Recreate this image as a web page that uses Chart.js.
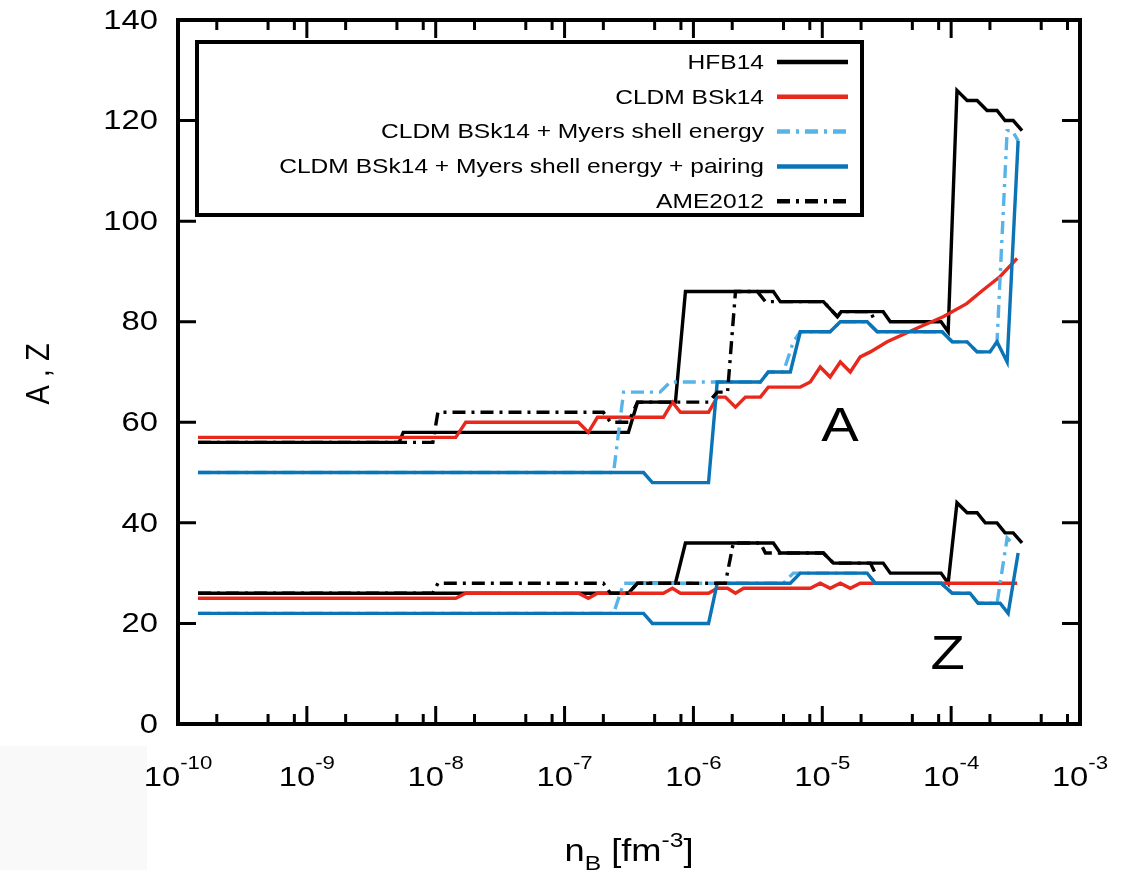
<!DOCTYPE html>
<html>
<head>
<meta charset="utf-8">
<title>A, Z vs nB</title>
<script src="https://cdn.jsdelivr.net/npm/chart.js@4.4.1/dist/chart.umd.min.js"></script>
<style>
  html, body { margin: 0; padding: 0; background: #fff; }
  canvas { display: block; }
</style>
</head>
<body>
<canvas id="myChart" width="1129" height="870"></canvas>
<script>
// values, nB in fm^-3

// HFB14
const hfbA_n = [1.43e-10, 5.2e-9, 5.6e-9, 3.13e-7, 3.68e-7, 7.25e-7, 8.67e-7, 4.17e-6, 4.72e-6, 1.02e-5, 1.31e-5, 1.40e-5, 2.97e-5, 3.37e-5, 8.35e-5, 9.48e-5, 1.11e-4, 1.33e-4, 1.59e-4, 1.90e-4, 2.27e-4, 2.62e-4, 3.03e-4, 3.55e-4];
const hfbA   = [56, 56, 58, 58, 64, 64, 86, 86, 84, 84, 81, 82, 82, 80, 80, 78, 126, 124, 124, 122, 122, 120, 120, 118];
const hfbZ_n = [1.43e-10, 3.13e-7, 3.68e-7, 7.25e-7, 8.67e-7, 4.17e-6, 4.72e-6, 1.02e-5, 1.22e-5, 2.97e-5, 3.37e-5, 8.35e-5, 9.48e-5, 1.11e-4, 1.33e-4, 1.59e-4, 1.84e-4, 2.27e-4, 2.62e-4, 3.03e-4, 3.55e-4];
const hfbZ   = [26, 26, 28, 28, 36, 36, 34, 34, 32, 32, 30, 30, 28, 44, 42, 42, 40, 40, 38, 38, 36];

// CLDM BSk14
const cldmA_n = [1.43e-10, 1.43e-8, 1.71e-8, 1.28e-7, 1.53e-7, 1.8e-7, 5.85e-7, 6.87e-7, 7.93e-7, 1.31e-6, 1.53e-6, 1.77e-6, 2.12e-6, 2.53e-6, 3.31e-6, 3.81e-6, 6.75e-6, 8.07e-6, 9.64e-6, 1.15e-5, 1.38e-5, 1.65e-5, 1.97e-5, 2.36e-5, 3.19e-5, 4.2e-5, 5.75e-5, 8.67e-5, 1.32e-4, 1.77e-4, 2.4e-4, 3.25e-4];
const cldmA   = [57, 57, 60, 60, 58, 61, 61, 64, 62, 62, 65, 65, 63, 65, 65, 67, 67, 68, 71, 69, 72, 70, 73, 74, 76, 77.4, 79, 81, 83.6, 86.3, 89, 92.6];
const cldmZ_n = [1.43e-10, 1.43e-8, 1.71e-8, 1.28e-7, 1.53e-7, 1.8e-7, 5.85e-7, 6.87e-7, 7.93e-7, 1.31e-6, 1.53e-6, 1.84e-6, 2.12e-6, 2.45e-6, 8.07e-6, 9.64e-6, 1.15e-5, 1.38e-5, 1.65e-5, 1.97e-5, 3.25e-4];
const cldmZ   = [25, 25, 26, 26, 25, 26, 26, 27, 26, 26, 27, 27, 26, 27, 27, 28, 27, 28, 27, 28, 28];

// CLDM BSk14 + Myers shell energy
const myA_n = [1.43e-10, 2.4e-7, 2.87e-7, 5.5e-7, 6.6e-7, 3.31e-6, 3.81e-6, 4.99e-6, 5.96e-6, 6.75e-6, 1.15e-5, 1.38e-5, 2.23e-5, 2.67e-5, 8.51e-5, 1.02e-4, 1.33e-4, 1.59e-4, 2.0e-4, 2.27e-4, 2.72e-4, 2.97e-4, 3.31e-4];
const myA   = [50, 50, 66, 66, 68, 68, 70, 70, 76, 78, 78, 80, 80, 78, 78, 76, 76, 74, 74, 76, 118, 118, 116];
const myZ_n = [1.43e-10, 2.4e-7, 2.87e-7, 4.99e-6, 5.96e-6, 2.23e-5, 2.58e-5, 8.35e-5, 1.02e-4, 1.40e-4, 1.62e-4, 2.27e-4, 2.72e-4, 2.97e-4];
const myZ   = [22, 22, 28, 28, 30, 30, 28, 28, 26, 26, 24, 24, 37, 36];

// CLDM BSk14 + Myers shell energy + pairing
const pairA_n = [1.43e-10, 4.1e-7, 4.8e-7, 1.31e-6, 1.53e-6, 3.31e-6, 3.81e-6, 5.65e-6, 6.75e-6, 1.15e-5, 1.38e-5, 2.23e-5, 2.67e-5, 8.51e-5, 1.02e-4, 1.33e-4, 1.59e-4, 2.0e-4, 2.27e-4, 2.72e-4, 3.31e-4];
const pairA   = [50, 50, 48, 48, 68, 68, 70, 70, 78, 78, 80, 80, 78, 78, 76, 76, 74, 74, 76, 72, 116];
const pairZ_n = [1.43e-10, 4.1e-7, 4.8e-7, 1.31e-6, 1.53e-6, 5.65e-6, 6.75e-6, 2.23e-5, 2.58e-5, 8.35e-5, 1.02e-4, 1.40e-4, 1.62e-4, 2.40e-4, 2.77e-4, 3.31e-4];
const pairZ   = [22, 22, 20, 20, 28, 28, 30, 30, 28, 28, 26, 26, 24, 24, 22, 34];

// AME2012
const ameA_n = [1.43e-10, 9.5e-9, 1.04e-8, 2.0e-7, 2.27e-7, 3.13e-7, 3.68e-7, 1.31e-6, 1.53e-6, 1.84e-6, 2.12e-6, 3.13e-6, 3.62e-6, 1.02e-5, 1.31e-5, 1.40e-5, 2.36e-5, 2.58e-5];
const ameA   = [56, 56, 62, 62, 60, 60, 64, 64, 66, 66, 86, 86, 84, 84, 81, 82, 82, 80];
const ameZ_n = [1.43e-10, 9.5e-9, 1.04e-8, 2.0e-7, 2.27e-7, 3.13e-7, 3.68e-7, 1.77e-6, 2.04e-6, 3.31e-6, 3.62e-6, 1.02e-5, 1.22e-5, 2.36e-5, 2.58e-5];
const ameZ   = [26, 26, 28, 28, 26, 26, 28, 28, 36, 36, 34, 34, 32, 32, 30];

const xTicks = [1e-10, 1e-9, 1e-8, 1e-7, 1e-6, 1e-5, 1e-4, 1e-3];
const yTicks = [0, 20, 40, 60, 80, 100, 120, 140];

const models = [
  { label: 'HFB14', color: '#000000', dash: [], A: [hfbA_n, hfbA], Z: [hfbZ_n, hfbZ], order: 4 },
  { label: 'CLDM BSk14', color: '#e8281d', dash: [], A: [cldmA_n, cldmA], Z: [cldmZ_n, cldmZ], order: 3 },
  { label: 'CLDM BSk14 + Myers shell energy', color: '#56b4e9', dash: [13, 6, 3, 6], A: [myA_n, myA], Z: [myZ_n, myZ], order: 2 },
  { label: 'CLDM BSk14 + Myers shell energy + pairing', color: '#0a74b6', dash: [], A: [pairA_n, pairA], Z: [pairZ_n, pairZ], order: 1 },
  { label: 'AME2012', color: '#000000', dash: [13, 6, 3, 6], A: [ameA_n, ameA], Z: [ameZ_n, ameZ], order: 0 }
];

const FONT = '"Liberation Sans", Arial, Helvetica, sans-serif';
const SX = 1.17; // text in the figure is a bit wider than normal

function pts(xs, ys) {
  return xs.map((v, i) => ({ x: v, y: ys[i] }));
}

const datasets = [];
models.forEach(m => {
  ['A', 'Z'].forEach(k => {
    datasets.push({
      label: m.label + ' ' + k,
      data: pts(m[k][0], m[k][1]),
      borderColor: m.color,
      backgroundColor: m.color,
      borderDash: m.dash,
      borderWidth: 3.4,
      pointRadius: 0,
      showLine: true,
      tension: 0,
      order: m.order
    });
  });
});

function txt(c, s, x, y, size, align, base) {
  c.save();
  c.font = size + 'px ' + FONT;
  c.textAlign = align || 'left';
  c.textBaseline = base || 'alphabetic';
  c.fillStyle = '#000';
  c.translate(x, y);
  c.scale(SX, 1);
  c.fillText(s, 0, 0);
  c.restore();
}
function txtW(c, s, size) {
  c.save();
  c.font = size + 'px ' + FONT;
  const w = c.measureText(s).width * SX;
  c.restore();
  return w;
}

// frame, inward ticks, tick labels, titles
const framePlugin = {
  id: 'framePlugin',
  beforeDraw(chart) {
    const c = chart.ctx;
    c.save();
    c.fillStyle = '#fff';
    c.fillRect(0, 0, chart.width, chart.height);
    c.fillStyle = '#f9f9f9';
    c.fillRect(0, 746, 147, 124);
    c.restore();
  },
  afterDatasetsDraw(chart) {
    const c = chart.ctx;
    const a = chart.chartArea;
    const x = chart.scales.x, y = chart.scales.y;
    c.save();
    c.strokeStyle = '#000';
    c.lineWidth = 3;
    c.beginPath();
    x.ticks.forEach(t => {
      const px = x.getPixelForValue(t.value);
      c.moveTo(px, a.bottom); c.lineTo(px, a.bottom - 18);
      c.moveTo(px, a.top); c.lineTo(px, a.top + 18);
      if (t.value < 1e-3) {
        [2, 5, 8].forEach(m => {
          const mx = x.getPixelForValue(m * t.value);
          c.moveTo(mx, a.bottom); c.lineTo(mx, a.bottom - 10);
          c.moveTo(mx, a.top); c.lineTo(mx, a.top + 10);
        });
      }
    });
    y.ticks.forEach(t => {
      const py = y.getPixelForValue(t.value);
      c.moveTo(a.left, py); c.lineTo(a.left + 18, py);
      c.moveTo(a.right, py); c.lineTo(a.right - 18, py);
    });
    c.stroke();
    c.lineWidth = 4;
    c.strokeRect(a.left, a.top, a.right - a.left, a.bottom - a.top);
    c.restore();

    // y tick labels
    y.ticks.forEach(t => {
      txt(c, String(t.value), a.left - 20, y.getPixelForValue(t.value) + 1, 28, 'right', 'middle');
    });
    // x tick labels, 10 with superscript exponent
    x.ticks.forEach(t => {
      const px = x.getPixelForValue(t.value);
      const e = '-' + Math.abs(Math.round(Math.log10(t.value)));
      const w1 = txtW(c, '10', 28), w2 = txtW(c, e, 19);
      const x0 = px - (w1 + w2) / 2;
      txt(c, '10', x0, 786, 28);
      txt(c, e, x0 + w1, 769, 19);
    });

    // curve labels
    txt(c, 'A', x.getPixelForValue(1.37e-5), y.getPixelForValue(59), 48, 'center', 'middle');
    txt(c, 'Z', x.getPixelForValue(9.4e-5), y.getPixelForValue(13.5), 48, 'center', 'middle');

    // x title  n_B [fm^-3]
    const parts = [['n', 31, 0], ['B', 21, 9], [' [fm', 31, 0], ['-3', 21, -14], [']', 31, 0]];
    let tw = 0;
    parts.forEach(p => { tw += txtW(c, p[0], p[1]); });
    let cx = 629 - tw / 2;
    parts.forEach(p => {
      txt(c, p[0], cx, 861 + p[2], p[1]);
      cx += txtW(c, p[0], p[1]);
    });

    // y title, rotated
    c.save();
    c.translate(40, 374);
    c.rotate(-Math.PI / 2);
    c.scale(1, SX);
    c.font = '29px ' + FONT;
    c.textAlign = 'center';
    c.textBaseline = 'middle';
    c.fillStyle = '#000';
    c.fillText('A , Z', 0, 0);
    c.restore();
  }
};

// key box, text right aligned with sample on the right
const keyPlugin = {
  id: 'keyPlugin',
  afterDraw(chart) {
    const c = chart.ctx;
    c.save();
    c.fillStyle = '#fff';
    c.fillRect(197, 42, 665, 173);
    c.lineWidth = 4;
    c.strokeStyle = '#000';
    c.strokeRect(197, 42, 665, 173);
    c.restore();
    models.forEach((m, i) => {
      const yy = 62 + i * 34.8;
      txt(c, m.label, 764, yy + 1, 21, 'right', 'middle');
      c.save();
      c.strokeStyle = m.color;
      c.lineWidth = 4.5;
      c.setLineDash(m.dash);
      c.beginPath();
      c.moveTo(777, yy);
      c.lineTo(848, yy);
      c.stroke();
      c.restore();
    });
  }
};

const config = {
  type: 'scatter',
  data: { datasets: datasets },
  options: {
    responsive: false,
    animation: false,
    events: [],
    layout: { padding: { left: 0, top: 20, right: 49, bottom: 0 } },
    plugins: { legend: { display: false }, tooltip: { enabled: false } },
    scales: {
      x: {
        type: 'logarithmic',
        min: 1e-10,
        max: 1e-3,
        grid: { display: false },
        border: { display: false },
        ticks: { display: false },
        afterBuildTicks: s => { s.ticks = xTicks.map(v => ({ value: v, major: true })); },
        afterFit: s => { s.height = 146; }
      },
      y: {
        min: 0,
        max: 140,
        grid: { display: false },
        border: { display: false },
        ticks: { display: false },
        afterBuildTicks: s => { s.ticks = yTicks.map(v => ({ value: v })); },
        afterFit: s => { s.width = 178; }
      }
    }
  },
  plugins: [framePlugin, keyPlugin]
};

const myChart = new Chart(document.getElementById('myChart'), config);
</script>
</body>
</html>
